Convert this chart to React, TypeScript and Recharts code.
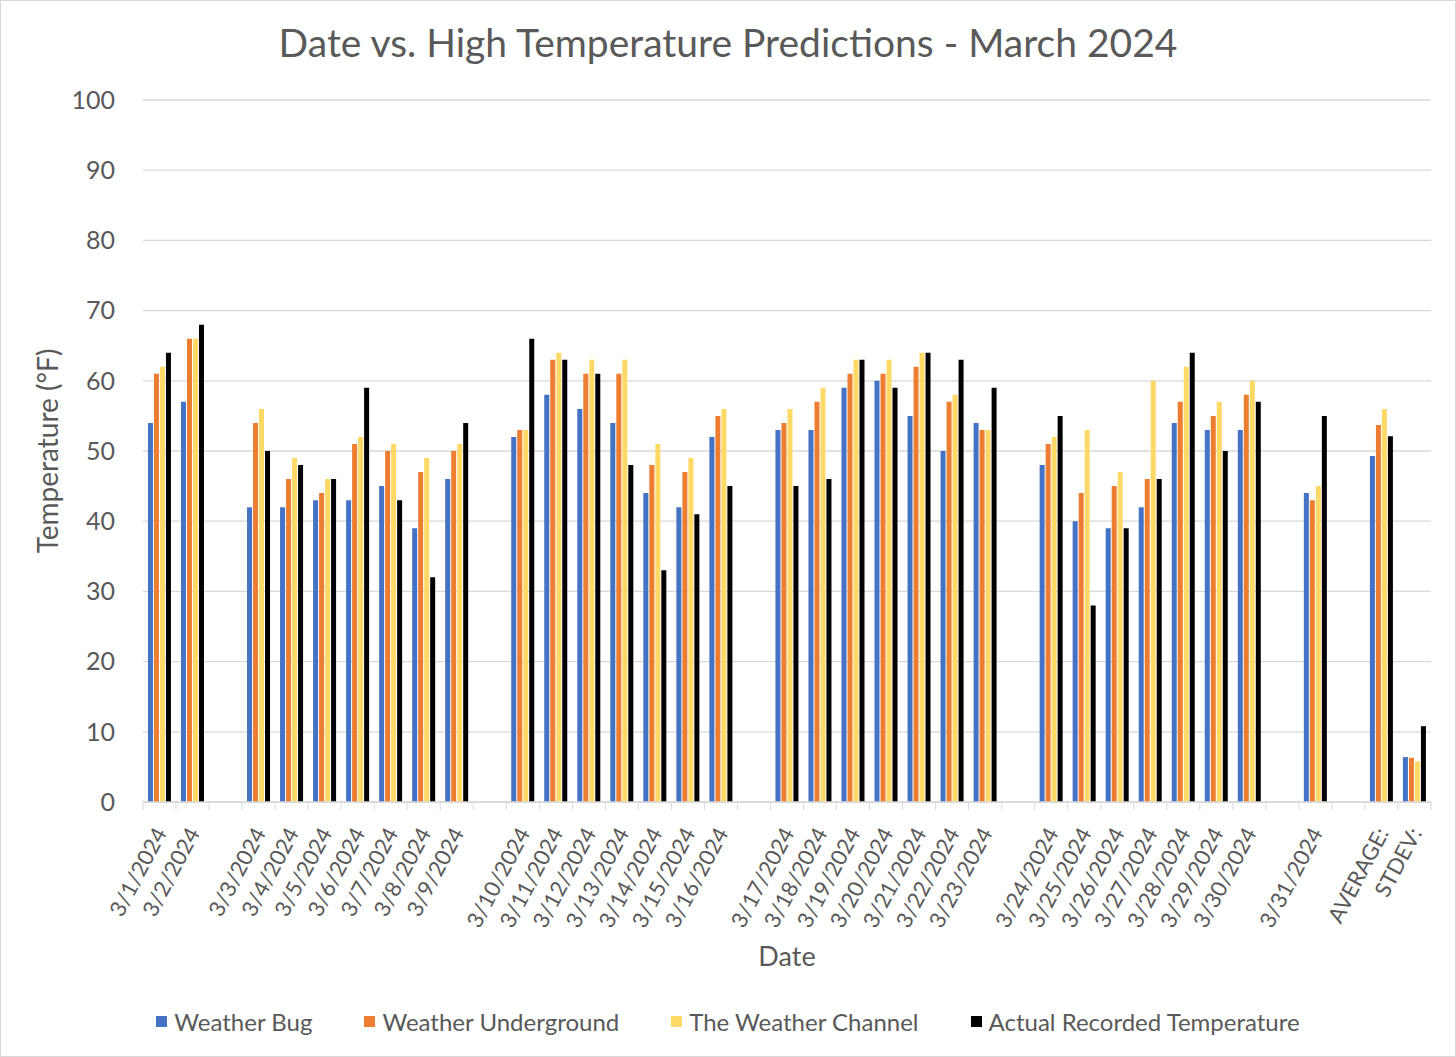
import React from 'react';
import { BarChart, Bar, XAxis, YAxis, CartesianGrid, Legend } from 'recharts';

// category labels, '' marks the empty slots Excel left between weeks
const dateLabels = [
  '3/1/2024', '3/2/2024', '',
  '3/3/2024', '3/4/2024', '3/5/2024', '3/6/2024', '3/7/2024', '3/8/2024', '3/9/2024', '',
  '3/10/2024', '3/11/2024', '3/12/2024', '3/13/2024', '3/14/2024', '3/15/2024', '3/16/2024', '',
  '3/17/2024', '3/18/2024', '3/19/2024', '3/20/2024', '3/21/2024', '3/22/2024', '3/23/2024', '',
  '3/24/2024', '3/25/2024', '3/26/2024', '3/27/2024', '3/28/2024', '3/29/2024', '3/30/2024', '',
  '3/31/2024', '',
  'AVERAGE:', 'STDEV:',
];

const seriesNames = ['Weather Bug', 'Weather Underground', 'The Weather Channel', 'Actual Recorded Temperature'];

const weatherBug = [
  54, 57, null,
  42, 42, 43, 43, 45, 39, 46, null,
  52, 58, 56, 54, 44, 42, 52, null,
  53, 53, 59, 60, 55, 50, 54, null,
  48, 40, 39, 42, 54, 53, 53, null,
  44, null,
  49.3, 6.4,
];

const weatherUnderground = [
  61, 66, null,
  54, 46, 44, 51, 50, 47, 50, null,
  53, 63, 61, 61, 48, 47, 55, null,
  54, 57, 61, 61, 62, 57, 53, null,
  51, 44, 45, 46, 57, 55, 58, null,
  43, null,
  53.7, 6.3,
];

const weatherChannel = [
  62, 66, null,
  56, 49, 46, 52, 51, 49, 51, null,
  53, 64, 63, 63, 51, 49, 56, null,
  56, 59, 63, 63, 64, 58, 53, null,
  52, 53, 47, 60, 62, 57, 60, null,
  45, null,
  56.0, 5.8,
];

const actualTemp = [
  64, 68, null,
  50, 48, 46, 59, 43, 32, 54, null,
  66, 63, 61, 48, 33, 41, 45, null,
  45, 46, 63, 59, 64, 63, 59, null,
  55, 28, 39, 46, 64, 50, 57, null,
  55, null,
  52.1, 10.8,
];

const yTicks = [0, 10, 20, 30, 40, 50, 60, 70, 80, 90, 100];

const data = dateLabels.map((label, i) => ({
  slot: i,
  label,
  bug: weatherBug[i],
  underground: weatherUnderground[i],
  channel: weatherChannel[i],
  actual: actualTemp[i],
}));

const CHART_W = 1454;
const CHART_H = 1055;
const MARGIN = { top: 99, right: 24, bottom: 80, left: 0 };
const Y_AXIS_W = 142;
const BAND = (CHART_W - MARGIN.left - MARGIN.right - Y_AXIS_W) / dateLabels.length;

const TEXT = '#595959';
const GRID = '#d9d9d9';

function DateTick(props: any) {
  const { x, y, payload } = props;
  const idx = payload.value as number;
  const label = dateLabels[idx] ?? '';
  const last = idx === dateLabels.length - 1;
  const tx = x + 8;
  const ty = y + 31;
  return (
    <g>
      <line x1={x - BAND / 2} x2={x - BAND / 2} y1={y} y2={y + 8} stroke={GRID} />
      {last && <line x1={x + BAND / 2} x2={x + BAND / 2} y1={y} y2={y + 8} stroke={GRID} />}
      {label && (
        <text
          x={tx}
          y={ty}
          transform={`rotate(-62, ${tx}, ${ty})`}
          textAnchor="end"
          fill={TEXT}
          fontSize={22}
        >
          {label}
        </text>
      )}
    </g>
  );
}

function LegendContent(props: any) {
  const items = [...(props.payload || [])].sort(
    (a: any, b: any) => seriesNames.indexOf(a.value) - seriesNames.indexOf(b.value)
  );
  return (
    <div style={{ display: 'flex', justifyContent: 'center', alignItems: 'center', height: 32 }}>
      {items.map((it: any, i: number) => (
        <div
          key={it.value}
          style={{
            display: 'flex',
            alignItems: 'center',
            marginRight: i === items.length - 1 ? 0 : 52,
          }}
        >
          <span style={{ width: 11, height: 11, background: it.color, marginRight: 7 }} />
          <span style={{ fontSize: 24, color: TEXT }}>{it.value}</span>
        </div>
      ))}
    </div>
  );
}

export default function App() {
  return (
    <div
      style={{
        position: 'absolute',
        left: 0,
        top: 0,
        width: 1456,
        height: 1057,
        border: `1px solid ${GRID}`,
        boxSizing: 'border-box',
        background: '#fff',
        fontFamily: 'Lato, sans-serif',
      }}
    >
      <div
        style={{
          position: 'absolute',
          top: 22,
          left: 0,
          right: 0,
          textAlign: 'center',
          fontSize: 39,
          lineHeight: 1,
          color: TEXT,
        }}
      >
        Date vs. High Temperature Predictions - March 2024
      </div>
      <BarChart
        width={CHART_W}
        height={CHART_H}
        data={data}
        margin={MARGIN}
        barGap={1}
        barCategoryGap="15%"
      >
        <CartesianGrid vertical={false} stroke={GRID} strokeWidth={1.3} />
        <XAxis
          dataKey="slot"
          type="category"
          interval={0}
          height={174}
          tickLine={false}
          tickSize={0}
          tickMargin={0}
          axisLine={{ stroke: GRID, strokeWidth: 1.3 }}
          tick={(p: any) => <DateTick {...p} />}
          label={{
            value: 'Date',
            position: 'insideBottom',
            offset: 10,
            style: { fontSize: 27, fill: TEXT },
          }}
        />
        <YAxis
          width={Y_AXIS_W}
          domain={[0, 100]}
          ticks={yTicks}
          interval={0}
          tickLine={false}
          axisLine={false}
          tickSize={0}
          tickMargin={28}
          tick={{ fontSize: 25, fill: TEXT }}
          label={{
            value: 'Temperature (°F)',
            angle: -90,
            position: 'insideLeft',
            offset: 47,
            style: { textAnchor: 'middle', fontSize: 28, fill: TEXT },
          }}
        />
        <Bar dataKey="bug" name={seriesNames[0]} fill="#4472C4" isAnimationActive={false} />
        <Bar dataKey="underground" name={seriesNames[1]} fill="#ED7D31" isAnimationActive={false} />
        <Bar dataKey="channel" name={seriesNames[2]} fill="#FFD966" isAnimationActive={false} />
        <Bar dataKey="actual" name={seriesNames[3]} fill="#000000" isAnimationActive={false} />
        <Legend
          verticalAlign="middle"
          align="center"
          layout="horizontal"
          wrapperStyle={{ top: 1004, left: 0, width: CHART_W, height: 32 }}
          content={LegendContent}
        />
      </BarChart>
    </div>
  );
}
